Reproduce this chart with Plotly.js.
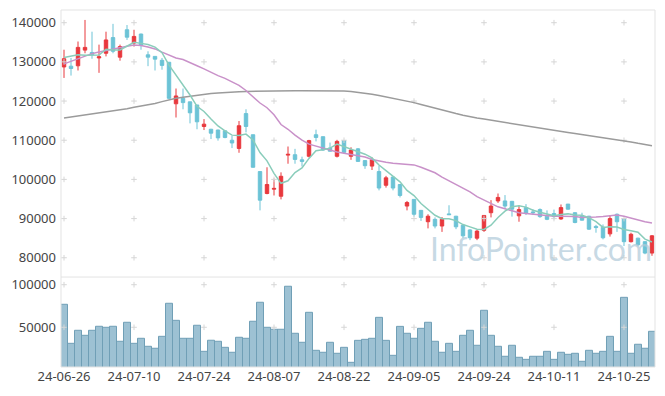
<!DOCTYPE html>
<html>
<head>
<meta charset="utf-8">
<script src="https://cdn.plot.ly/plotly-3.0.1.min.js"></script>
<style>html,body{margin:0;padding:0;background:#fff;}#chart{width:665px;height:396px;}</style>
</head>
<body>
<div id="chart"></div>
<script>
const dates = ['24-06-26','24-06-27','24-06-28','24-07-01','24-07-02','24-07-03','24-07-04','24-07-05','24-07-08','24-07-09',
'24-07-10','24-07-11','24-07-12','24-07-15','24-07-16','24-07-17','24-07-18','24-07-19','24-07-22','24-07-23',
'24-07-24','24-07-25','24-07-26','24-07-29','24-07-30','24-07-31','24-08-01','24-08-02','24-08-05','24-08-06',
'24-08-07','24-08-08','24-08-09','24-08-12','24-08-13','24-08-14','24-08-16','24-08-19','24-08-20','24-08-21',
'24-08-22','24-08-23','24-08-26','24-08-27','24-08-28','24-08-29','24-08-30','24-09-02','24-09-03','24-09-04',
'24-09-05','24-09-06','24-09-09','24-09-10','24-09-11','24-09-12','24-09-13','24-09-19','24-09-20','24-09-23',
'24-09-24','24-09-25','24-09-26','24-09-27','24-09-30','24-10-02','24-10-04','24-10-07','24-10-08','24-10-10',
'24-10-11','24-10-14','24-10-15','24-10-16','24-10-17','24-10-18','24-10-21','24-10-22','24-10-23','24-10-24',
'24-10-25','24-10-28','24-10-29','24-10-30','24-10-31'];

const openP = [128700,128900,129000,133000,132400,131000,132200,136200,131200,138200,
134800,137100,131800,131400,130400,129900,119300,120700,119800,119000,
113500,112800,112600,112400,110000,107900,116800,111400,102000,96400,
97500,95700,106200,106300,105000,105900,111400,110900,108000,105900,
109900,105900,107800,104800,103400,102000,98500,100600,98700,93200,
94900,92100,89200,89800,88100,91200,90600,88300,87100,85000,
87000,91500,94500,94500,94400,90700,92800,91700,92300,90600,
91300,89900,93700,91500,90600,90600,88000,87800,86100,91100,
90000,84100,85000,84100,81200];

const highP = [133100,131000,135200,140700,137700,134400,137700,139700,134400,139400,
138200,137200,132700,131400,131000,129900,123200,123200,119800,119000,
115400,112900,112700,112400,111100,114900,117900,111400,102000,103100,
100200,101800,108400,107800,105800,110100,112700,110900,109400,110100,
110000,108200,108000,104800,105600,103500,100900,100600,98800,94500,
95000,92200,91100,90300,90400,93400,90700,88400,87300,87100,
90800,94700,96400,96000,94500,93400,93700,92400,92600,92100,
92300,93600,93700,91600,91500,90700,88400,88500,90900,91300,
90100,86400,85100,84200,85800];

const lowP = [125900,126500,127800,132200,130800,127200,131400,132200,130300,135600,
133900,133100,128900,127800,128000,120400,115800,117900,114300,112800,
112600,110300,109900,110500,108000,106800,112000,103000,92100,96200,
95900,94900,104000,104000,103300,105600,109700,107300,107100,105600,
106600,105000,104500,102700,102400,97200,97900,97200,95400,92100,
90500,89400,87500,87500,86600,90900,87300,85000,84500,84500,
86600,90300,94000,92400,90500,89200,90900,90900,90200,89600,
89800,89700,92300,88800,89500,87100,86400,84700,85400,86600,
83000,83900,82900,80900,80500];

const closeP = [130800,128300,133700,133700,131800,131300,135600,132700,133900,136300,
136500,134200,131200,130700,129100,120700,121300,119600,117000,114700,
114100,111800,110600,110700,109300,113700,113500,103100,94700,98700,
97700,100800,106400,105100,104600,109900,110700,107500,107200,109700,
106900,107500,104600,103500,105000,97800,100400,97800,95900,94100,
91100,90300,90600,88100,89800,91000,87900,85600,85100,86800,
90800,93200,95400,93200,92400,92300,91300,91500,90500,89800,
90500,92800,92400,89000,89600,87300,87700,85100,90000,89200,
84100,86000,83300,81200,85600];

const volume = [77000,31200,46500,40600,46500,51200,50000,51200,33600,55900,
31200,37100,27700,25400,39400,78200,58200,37100,37100,52400,
21800,34800,33600,26500,20700,38300,37100,57100,79400,50000,
47700,47700,98200,43000,32400,67600,23000,20700,32400,19500,
26500,8900,34700,35900,37100,61700,34700,17100,51100,43000,
37100,48800,55900,33600,20700,31200,21800,40600,46500,28900,
70000,40600,27700,16000,28900,14800,12400,16000,16000,21800,
12400,20700,18300,19500,10100,23000,19500,21800,39400,21800,
85200,19500,30100,25400,45300];

const ma5 = [131100,131400,131800,131700,131660,131760,133220,133020,133060,133960,
135000,134720,134420,133780,132340,129180,126600,124280,121540,118660,
117340,115440,113640,112380,111300,111220,111560,110060,106860,104740,
101540,99000,99660,101740,102920,105360,107340,107560,107980,109000,
108400,107760,107180,106440,105500,103680,102260,100900,99380,97200,
95860,93840,92400,90840,89980,89960,89480,88480,87880,87280,
87240,88300,90260,91880,93000,93300,92920,92140,91600,91080,
90720,91020,91200,90900,90860,90220,89200,87740,87940,87860,
87220,86880,86520,84760,84040];

const ma20 = [129500,130200,130900,131600,132100,132500,132900,133300,133600,134000,
134300,134200,133800,133300,132500,131800,131000,130600,129900,129000,
128200,127300,126500,125800,125000,124000,122700,121000,119500,118300,
116500,114000,112800,111300,110000,109000,108500,108000,107400,107000,
106700,106400,106100,105700,105100,104700,104400,104100,104000,103800,
103700,103100,102500,101700,100600,99700,98700,97900,96800,95600,
94700,93900,93000,92500,92000,91500,91300,91100,90900,90700,
90600,90600,90600,90500,90300,90300,90400,90500,90700,90900,
90600,90100,89600,89200,88900];

const maLong = [115700,115950,116200,116450,116700,116950,117200,117450,117700,118050,
118400,118700,119050,119400,119850,120300,120700,120950,121200,121500,
121700,121900,122050,122200,122300,122400,122450,122500,122520,122550,
122580,122600,122620,122640,122650,122650,122650,122650,122640,122620,
122580,122450,122250,122000,121750,121400,121050,120700,120350,120050,
119600,119100,118600,118100,117650,117250,116800,116400,116000,115700,
115400,115100,114800,114550,114250,113950,113650,113350,113050,112750,
112450,112200,111950,111700,111450,111200,110950,110700,110450,110150,
109850,109550,109200,108900,108600];

const priceTicks = [80000,90000,100000,110000,120000,130000,140000];
const volTicks = [50000,100000];
const xTicks = dates.filter((d,i)=> i % 10 === 0);

const FONT = 'Noto Sans, sans-serif';
const gx = [], gy = [], vx = [], vy = [];
xTicks.forEach(d => { priceTicks.forEach(p => { gx.push(d); gy.push(p); }); volTicks.forEach(v => { vx.push(d); vy.push(v); }); });

const traces = [
  {type:'scatter', mode:'markers', x:gx, y:gy, xaxis:'x', yaxis:'y', hoverinfo:'skip',
   marker:{symbol:'cross-thin', size:4, line:{color:'#d6d6d6', width:1}}},
  {type:'scatter', mode:'markers', x:vx, y:vy, xaxis:'x', yaxis:'y2', hoverinfo:'skip',
   marker:{symbol:'cross-thin', size:4, line:{color:'#d6d6d6', width:1}}},
  {type:'scatter', mode:'lines', x:dates, y:maLong, line:{color:'#9b9b9b', width:1.5}, xaxis:'x', yaxis:'y'},
  {type:'scatter', mode:'lines', x:dates, y:ma20, line:{color:'#c991c9', width:1.5}, xaxis:'x', yaxis:'y'},
  {type:'scatter', mode:'lines', x:dates, y:ma5, line:{color:'#8acdbb', width:1.5}, xaxis:'x', yaxis:'y'},
  {type:'candlestick', x:dates, open:openP, high:highP, low:lowP, close:closeP, xaxis:'x', yaxis:'y',
   whiskerwidth:0,
   increasing:{line:{color:'#e8383d', width:1}, fillcolor:'#e8383d'},
   decreasing:{line:{color:'#6cc3d6', width:1}, fillcolor:'#6cc3d6'}},
  {type:'bar', x:dates, y:volume, xaxis:'x', yaxis:'y2',
   marker:{color:'rgba(124,172,196,0.75)', line:{color:'#709fb6', width:1}}}
];

const splitY = 0.252;
const layout = {
  width:665, height:396,
  margin:{l:61, r:10, t:10, b:29},
  paper_bgcolor:'#ffffff', plot_bgcolor:'#ffffff',
  showlegend:false, hovermode:false, bargap:0,
  font:{family:FONT, size:13, color:'#444'},
  xaxis:{type:'category', categoryorder:'array', categoryarray:dates, range:[-0.43, 84.43], anchor:'y2',
         tickvals:xTicks, ticktext:xTicks,
         showgrid:false, zeroline:false, showline:false, ticks:'', rangeslider:{visible:false},
         tickfont:{family:FONT, size:13, color:'#444'}},
  yaxis:{domain:[splitY,1], range:[75080,143240], tickvals:priceTicks, ticktext:priceTicks.map(String),
         showgrid:false, zeroline:false, showline:false, ticks:'', ticklabelstandoff:4,
         tickfont:{family:FONT, size:13, color:'#444'}},
  yaxis2:{domain:[0,splitY], range:[3400,109000], tickvals:volTicks, ticktext:volTicks.map(String),
         showgrid:false, zeroline:false, showline:false, ticks:'', ticklabelstandoff:4,
         tickfont:{family:FONT, size:13, color:'#444'}},
  shapes:[
    {type:'rect', xref:'paper', yref:'paper', x0:0, x1:1, y0:0, y1:1, line:{color:'#e3e3e3', width:1}},
    {type:'line', xref:'paper', yref:'paper', x0:0, x1:1, y0:splitY, y1:splitY, line:{color:'#e3e3e3', width:1}}
  ],
  annotations:[
    {text:'InfoPointer.com', xref:'paper', yref:'paper', x:0.998, y:splitY+0.02, xanchor:'right', yanchor:'bottom',
     showarrow:false, font:{family:'Lato, sans-serif', size:32, color:'rgba(178,203,218,0.72)'}}
  ]
};

Plotly.newPlot('chart', traces, layout, {staticPlot:true, displayModeBar:false});
</script>
</body>
</html>
